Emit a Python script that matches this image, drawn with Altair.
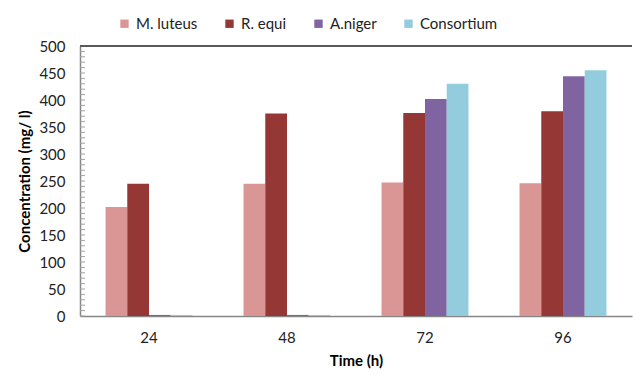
import altair as alt
import pandas as pd

times = ["24", "48", "72", "96"]
series = ["M. luteus", "R. equi", "A.niger", "Consortium"]
m_luteus = [202, 245, 247, 246]
r_equi = [245, 375, 376, 379]
a_niger = [2, 2, 402, 444]
consortium = [2, 2, 430, 455]
colors = ["#D99694", "#953735", "#8064A2", "#93CDDD"]
y_ticks = list(range(0, 501, 50))
minor_ticks = list(range(0, 501, 10))
top_line = [500]

rows = []
for name, vals in zip(series, [m_luteus, r_equi, a_niger, consortium]):
    for t, v in zip(times, vals):
        rows.append({"time": t, "series": name, "value": v})
df = pd.DataFrame(rows)

FONT = "Lato"

bars = alt.Chart(df).mark_bar().encode(
    x=alt.X("time:N", sort=times,
            scale=alt.Scale(paddingInner=0.37, paddingOuter=0.185),
            axis=alt.Axis(title="Time (h)", labelAngle=0, ticks=False,
                          labelPadding=14, titlePadding=8,
                          domainColor="#868686", domainWidth=1.5)),
    xOffset=alt.XOffset("series:N", sort=series, scale=alt.Scale(paddingInner=0)),
    y=alt.Y("value:Q", scale=alt.Scale(domain=[0, 500], nice=False),
            axis=alt.Axis(title="Concentration (mg/ l)", values=y_ticks,
                          ticks=False, labelPadding=15, titlePadding=6,
                          grid=False, domainColor="#868686", domainWidth=1.5)),
    color=alt.Color("series:N", sort=series,
                    scale=alt.Scale(domain=series, range=colors),
                    legend=alt.Legend(title=None, orient="none", direction="horizontal",
                                      legendX=37, legendY=-30,
                                      symbolType="square", symbolSize=70,
                                      symbolStrokeWidth=0, columnPadding=24,
                                      labelFontSize=15, labelFont=FONT,
                                      labelColor="#222222", labelOffset=4)),
)

minor = alt.Chart(pd.DataFrame({"v": minor_ticks})).mark_rule(
    color="#A0A0A0", strokeWidth=1
).encode(
    y=alt.Y("v:Q", axis=None),
    x=alt.value(0), x2=alt.value(5),
)

top = alt.Chart(pd.DataFrame({"v": top_line})).mark_rule(
    color="#595959", strokeWidth=2
).encode(
    y=alt.Y("v:Q", axis=None),
    x=alt.value(0), x2=alt.value(552),
)

chart = alt.layer(bars, minor, top).resolve_axis(y="independent").properties(
    width=552, height=270,
    autosize=alt.AutoSizeParams(type="none"),
    padding={"left": 80, "top": 46, "right": 1, "bottom": 60},
    background="white",
).configure_view(stroke=None).configure_axis(
    labelFont=FONT, labelFontSize=15, labelColor="#222222",
    titleFont=FONT, titleFontSize=15, titleFontWeight="bold", titleColor="#000000",
)

chart.save("out.html", embed_options={"renderer": "svg", "actions": False})
